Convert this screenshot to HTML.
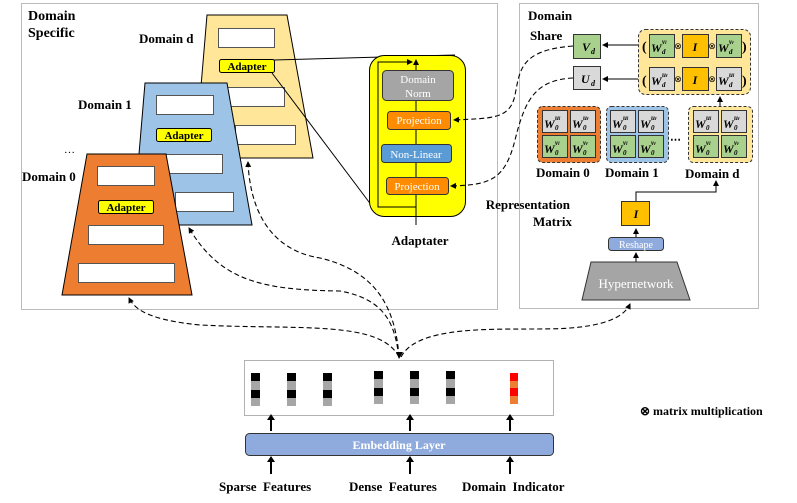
<!DOCTYPE html>
<html><head><meta charset="utf-8"><style>
body{margin:0;background:#fff}
svg{display:block;font-family:"Liberation Serif",serif}
text{white-space:pre}
.b{font-weight:bold}
</style></head><body>
<svg width="797" height="503" viewBox="0 0 797 503" xmlns="http://www.w3.org/2000/svg">
<defs>
<marker id="a" markerWidth="6" markerHeight="6" refX="5" refY="3" orient="auto" markerUnits="userSpaceOnUse"><path d="M0,0 L6,3 L0,6z" fill="#000"/></marker>
</defs>
<rect x="21.5" y="3.5" width="476" height="306" fill="none" stroke="#777" stroke-dasharray="1,1"/>
<rect x="519.5" y="3.5" width="239" height="305" fill="none" stroke="#777" stroke-dasharray="1,1"/>
<text x="28" y="20" class="b" font-size="14">Domain</text>
<text x="28" y="37" class="b" font-size="14">Specific</text>

<polygon points="207,15 287,15 313,158 195,158" fill="#FFE699" stroke="#000"/>
<rect x="218.5" y="28.5" width="56" height="19" fill="#fff" stroke="#555"/>
<rect x="225.5" y="87.5" width="59" height="19" fill="#fff" stroke="#555"/>
<rect x="235.5" y="125.5" width="60" height="19" fill="#fff" stroke="#555"/>
<rect x="219.5" y="59.5" width="55" height="13" rx="2" fill="#FFFF00" stroke="#000"/>
<text x="247" y="70" class="b" font-size="11" text-anchor="middle">Adapter</text>
<text x="139" y="43" class="b" font-size="13">Domain d</text>

<polygon points="145,83 227,83 252,225 133,225" fill="#9DC3E6" stroke="#000"/>
<rect x="156.5" y="95.5" width="57" height="19" fill="#fff" stroke="#555"/>
<rect x="165.5" y="154.5" width="57" height="19" fill="#fff" stroke="#555"/>
<rect x="175.5" y="192.5" width="58" height="19" fill="#fff" stroke="#555"/>
<rect x="156.5" y="128.5" width="55" height="13" rx="2" fill="#FFFF00" stroke="#000"/>
<text x="184" y="139" class="b" font-size="11" text-anchor="middle">Adapter</text>
<text x="78" y="109" class="b" font-size="13">Domain 1</text>
<text x="64" y="153" font-size="11">…</text>

<polygon points="87,154 166,154 192,295 62,295" fill="#ED7D31" stroke="#000"/>
<rect x="97.5" y="166.5" width="57" height="19" fill="#fff" stroke="#555"/>
<rect x="88.5" y="225.5" width="75" height="19" fill="#fff" stroke="#555"/>
<rect x="78.5" y="263.5" width="96" height="19" fill="#fff" stroke="#555"/>
<rect x="98.5" y="200.5" width="55" height="13" rx="2" fill="#FFFF00" stroke="#000"/>
<text x="126" y="211" class="b" font-size="11" text-anchor="middle">Adapter</text>
<text x="22" y="181" class="b" font-size="13">Domain 0</text>

<line x1="274" y1="60" x2="455" y2="55" stroke="#000"/>
<line x1="272" y1="73" x2="372" y2="206" stroke="#000"/>

<rect x="369.5" y="55.5" width="96" height="161" rx="15" fill="#FFFF00" stroke="#000"/>
<line x1="416" y1="225" x2="416" y2="60" stroke="#000" marker-end="url(#a)"/>
<polyline points="416,207 378,207 378,62 412,62" fill="none" stroke="#000" marker-end="url(#a)"/>
<rect x="382.5" y="70.5" width="71" height="30" rx="4" fill="#A5A5A5" stroke="#333"/>
<text x="418" y="83" font-size="11" fill="#fff" text-anchor="middle">Domain</text>
<text x="418" y="97" font-size="11" fill="#fff" text-anchor="middle">Norm</text>
<rect x="387.5" y="111.5" width="63" height="18" rx="3" fill="#FF8C00" stroke="#333"/>
<text x="419" y="124" font-size="11" fill="#fff" text-anchor="middle">Projection</text>
<rect x="381.5" y="144.5" width="70" height="18" rx="3" fill="#5B9BD5" stroke="#333"/>
<text x="416" y="158" font-size="11" fill="#fff" text-anchor="middle">Non-Linear</text>
<rect x="386.5" y="177.5" width="62" height="17" rx="3" fill="#FF8C00" stroke="#333"/>
<text x="417" y="190" font-size="11" fill="#fff" text-anchor="middle">Projection</text>
<text x="420" y="245" class="b" font-size="13" text-anchor="middle">Adaptater</text>

<text x="528" y="20" class="b" font-size="13">Domain</text>
<text x="530" y="40" class="b" font-size="13">Share</text>
<rect x="573.5" y="34.5" width="27" height="24" fill="#A9D18E" stroke="#333"/>
<text x="582" y="51" class="b" font-style="italic" font-size="12">V</text><text x="591" y="54" class="b" font-style="italic" font-size="8">d</text>
<rect x="573.5" y="66.5" width="27" height="23" fill="#D9D9D9" stroke="#333"/>
<text x="581" y="83" class="b" font-style="italic" font-size="12">U</text><text x="591" y="86" class="b" font-style="italic" font-size="8">d</text>

<rect x="638.5" y="29.5" width="112" height="65" rx="7" fill="#FFE699" stroke="#333" stroke-dasharray="3,2"/>
<line x1="638" y1="45" x2="603" y2="45" stroke="#000" marker-end="url(#a)"/>
<line x1="638" y1="79" x2="603" y2="79" stroke="#000" marker-end="url(#a)"/>
<g font-size="14" class="b">
<text x="642" y="51">(</text><text x="742" y="51">)</text>
<text x="642" y="85">(</text><text x="742" y="85">)</text>
</g>
<g stroke="#333">
<rect x="649.5" y="34.5" width="25" height="23" fill="#A9D18E"/>
<rect x="682.5" y="34.5" width="26" height="23" fill="#FFC000"/>
<rect x="716.5" y="34.5" width="25" height="23" fill="#A9D18E"/>
<rect x="649.5" y="67.5" width="25" height="23" fill="#D9D9D9"/>
<rect x="682.5" y="67.5" width="26" height="23" fill="#FFC000"/>
<rect x="716.5" y="67.5" width="25" height="23" fill="#D9D9D9"/>
</g>
<g font-style="italic" class="b">
<text x="651" y="52" font-size="12">W</text><text x="662" y="44" font-size="7">v<tspan font-size="5">l</tspan></text><text x="662" y="54" font-size="7">d</text>
<text x="695" y="51" font-size="12" text-anchor="middle">I</text>
<text x="718" y="52" font-size="12">W</text><text x="729" y="44" font-size="7">v<tspan font-size="5">r</tspan></text><text x="729" y="54" font-size="7">d</text>
<text x="651" y="85" font-size="12">W</text><text x="662" y="77" font-size="7">u<tspan font-size="5">r</tspan></text><text x="662" y="87" font-size="7">d</text>
<text x="695" y="84" font-size="12" text-anchor="middle">I</text>
<text x="718" y="85" font-size="12">W</text><text x="729" y="77" font-size="7">u<tspan font-size="5">l</tspan></text><text x="729" y="87" font-size="7">d</text>
</g>
<g font-size="9" text-anchor="middle"><text x="678" y="49">⊗</text><text x="712" y="49">⊗</text><text x="678" y="82">⊗</text><text x="712" y="82">⊗</text></g>

<rect x="537.5" y="106.5" width="63" height="56" rx="5" fill="#ED7D31" stroke="#333" stroke-dasharray="3,2"/>
<rect x="606.5" y="106.5" width="62" height="56" rx="5" fill="#9DC3E6" stroke="#333" stroke-dasharray="3,2"/>
<rect x="688.5" y="106.5" width="64" height="56" rx="5" fill="#FFE699" stroke="#333" stroke-dasharray="3,2"/>
<g stroke="#333">
<rect x="542.5" y="110.5" width="25" height="22" fill="#D9D9D9"/><rect x="570.5" y="110.5" width="25" height="22" fill="#D9D9D9"/>
<rect x="542.5" y="135.5" width="25" height="22" fill="#A9D18E"/><rect x="570.5" y="135.5" width="25" height="22" fill="#A9D18E"/>
<rect x="610.5" y="110.5" width="25" height="22" fill="#D9D9D9"/><rect x="638.5" y="110.5" width="25" height="22" fill="#D9D9D9"/>
<rect x="610.5" y="135.5" width="25" height="22" fill="#A9D18E"/><rect x="638.5" y="135.5" width="25" height="22" fill="#A9D18E"/>
<rect x="693.5" y="110.5" width="25" height="22" fill="#D9D9D9"/><rect x="721.5" y="110.5" width="25" height="22" fill="#D9D9D9"/>
<rect x="693.5" y="135.5" width="25" height="22" fill="#A9D18E"/><rect x="721.5" y="135.5" width="25" height="22" fill="#A9D18E"/>
</g>
<g font-style="italic" class="b">
<g id="c1"><text x="544" y="128" font-size="12">W</text><text x="555" y="120" font-size="7">u<tspan font-size="5">l</tspan></text><text x="555" y="130" font-size="7">0</text></g>
<g><text x="572" y="128" font-size="12">W</text><text x="583" y="120" font-size="7">u<tspan font-size="5">r</tspan></text><text x="583" y="130" font-size="7">0</text></g>
<g><text x="544" y="153" font-size="12">W</text><text x="555" y="145" font-size="7">v<tspan font-size="5">l</tspan></text><text x="555" y="155" font-size="7">0</text></g>
<g><text x="572" y="153" font-size="12">W</text><text x="583" y="145" font-size="7">v<tspan font-size="5">r</tspan></text><text x="583" y="155" font-size="7">0</text></g>
<g><text x="612" y="128" font-size="12">W</text><text x="623" y="120" font-size="7">u<tspan font-size="5">l</tspan></text><text x="623" y="130" font-size="7">0</text></g>
<g><text x="640" y="128" font-size="12">W</text><text x="651" y="120" font-size="7">u<tspan font-size="5">r</tspan></text><text x="651" y="130" font-size="7">0</text></g>
<g><text x="612" y="153" font-size="12">W</text><text x="623" y="145" font-size="7">v<tspan font-size="5">l</tspan></text><text x="623" y="155" font-size="7">0</text></g>
<g><text x="640" y="153" font-size="12">W</text><text x="651" y="145" font-size="7">v<tspan font-size="5">r</tspan></text><text x="651" y="155" font-size="7">0</text></g>
<g><text x="695" y="128" font-size="12">W</text><text x="706" y="120" font-size="7">u<tspan font-size="5">l</tspan></text><text x="706" y="130" font-size="7">0</text></g>
<g><text x="723" y="128" font-size="12">W</text><text x="734" y="120" font-size="7">u<tspan font-size="5">r</tspan></text><text x="734" y="130" font-size="7">0</text></g>
<g><text x="695" y="153" font-size="12">W</text><text x="706" y="145" font-size="7">v<tspan font-size="5">l</tspan></text><text x="706" y="155" font-size="7">0</text></g>
<g><text x="723" y="153" font-size="12">W</text><text x="734" y="145" font-size="7">v<tspan font-size="5">r</tspan></text><text x="734" y="155" font-size="7">0</text></g>
</g>
<text x="670" y="143" class="b" font-size="11">⋯</text>
<line x1="720" y1="106" x2="720" y2="97" stroke="#000" marker-end="url(#a)"/>
<g class="b" font-size="13">
<text x="536" y="177">Domain 0</text><text x="605" y="177">Domain 1</text><text x="685" y="178">Domain d</text>
</g>

<text x="570" y="209" class="b" font-size="13" text-anchor="end">Representation</text>
<text x="572" y="226" class="b" font-size="13" text-anchor="end">Matrix</text>
<rect x="621.5" y="201.5" width="28" height="24" fill="#FFC000" stroke="#333"/>
<text x="636" y="218" class="b" font-style="italic" font-size="12" text-anchor="middle">I</text>
<polyline points="636,201 636,192 716,192 716,181" fill="none" stroke="#000" marker-end="url(#a)"/>
<line x1="636" y1="237" x2="636" y2="229" stroke="#000" marker-end="url(#a)"/>
<rect x="608.5" y="237.5" width="55" height="13" rx="3" fill="#8FAADC" stroke="#333"/>
<text x="636" y="248" font-size="10" fill="#fff" text-anchor="middle">Reshape</text>
<line x1="636" y1="262" x2="636" y2="253" stroke="#000" marker-end="url(#a)"/>
<polygon points="591,262 677,262 690,300 582,300" fill="#A5A5A5" stroke="#333"/>
<text x="636" y="288" font-size="13" fill="#fff" text-anchor="middle">Hypernetwork</text>

<g fill="none" stroke="#000" stroke-dasharray="5,3" stroke-width="1.1">
<path d="M573,46 C520,50 520,70 515,95 C510,120 490,118 454,120" marker-end="url(#a)"/>
<path d="M573,78 C535,80 525,100 515,140 C505,180 490,185 451,186" marker-end="url(#a)"/>
<path d="M399,357 C395,330 390,300 340,291 C260,290 220,280 189,228" marker-end="url(#a)"/>
<path d="M399,357 C395,300 370,270 320,258 C270,250 250,210 248,162" marker-end="url(#a)"/>
<path d="M399,357 C380,320 300,330 200,325 C150,320 135,310 129,298" marker-end="url(#a)"/>
<path d="M401,357 C420,320 520,332 570,328 C610,325 625,315 630,304" marker-end="url(#a)"/>
</g>
<path d="M396,352 L399,359 L403,352z" fill="#000"/>

<rect x="244.5" y="360.5" width="309" height="55" fill="none" stroke="#666" stroke-dasharray="1,1"/>
<g>
<g transform="translate(251,373)"><rect width="9" height="8" fill="#000"/><rect y="8" width="9" height="9" fill="#A6A6A6"/><rect y="17" width="9" height="8" fill="#000"/><rect y="25" width="9" height="8" fill="#A6A6A6"/></g>
<g transform="translate(287,373)"><rect width="9" height="8" fill="#000"/><rect y="8" width="9" height="9" fill="#A6A6A6"/><rect y="17" width="9" height="8" fill="#000"/><rect y="25" width="9" height="8" fill="#A6A6A6"/></g>
<g transform="translate(323,373)"><rect width="9" height="8" fill="#000"/><rect y="8" width="9" height="9" fill="#A6A6A6"/><rect y="17" width="9" height="8" fill="#000"/><rect y="25" width="9" height="8" fill="#A6A6A6"/></g>
<g transform="translate(374,371)"><rect width="9" height="8" fill="#000"/><rect y="8" width="9" height="9" fill="#A6A6A6"/><rect y="17" width="9" height="8" fill="#000"/><rect y="25" width="9" height="8" fill="#A6A6A6"/></g>
<g transform="translate(410,371)"><rect width="9" height="8" fill="#000"/><rect y="8" width="9" height="9" fill="#A6A6A6"/><rect y="17" width="9" height="8" fill="#000"/><rect y="25" width="9" height="8" fill="#A6A6A6"/></g>
<g transform="translate(446,371)"><rect width="9" height="8" fill="#000"/><rect y="8" width="9" height="9" fill="#A6A6A6"/><rect y="17" width="9" height="8" fill="#000"/><rect y="25" width="9" height="8" fill="#A6A6A6"/></g>
<g transform="translate(510,373)"><rect width="8" height="8" fill="#FF0000"/><rect y="8" width="8" height="7" fill="#ED7D31"/><rect y="15" width="8" height="8" fill="#FF0000"/><rect y="23" width="8" height="8" fill="#ED7D31"/></g>
</g>
<g stroke="#000" stroke-width="2">
<line x1="271" y1="431" x2="271" y2="420"/><line x1="410" y1="431" x2="410" y2="420"/><line x1="510" y1="431" x2="510" y2="420"/>
<line x1="271" y1="474" x2="271" y2="462"/><line x1="410" y1="474" x2="410" y2="462"/><line x1="510" y1="474" x2="510" y2="462"/>
</g>
<g fill="#000">
<path d="M267,420 L271,414 L275,420z"/><path d="M406,420 L410,414 L414,420z"/><path d="M506,420 L510,414 L514,420z"/>
<path d="M267,462 L271,456 L275,462z"/><path d="M406,462 L410,456 L414,462z"/><path d="M506,462 L510,456 L514,462z"/>
</g>
<rect x="245.5" y="433.5" width="308" height="22" rx="4" fill="#8FAADC" stroke="#333"/>
<text x="399" y="449" class="b" font-size="12" fill="#fff" text-anchor="middle">Embedding Layer</text>
<g class="b" font-size="13">
<text x="219" y="491">Sparse  Features</text>
<text x="349" y="491">Dense  Features</text>
<text x="462" y="491">Domain  Indicator</text>
</g>
<text x="640" y="415" class="b" font-size="12">⊗ matrix multiplication</text>
</svg>
</body></html>
